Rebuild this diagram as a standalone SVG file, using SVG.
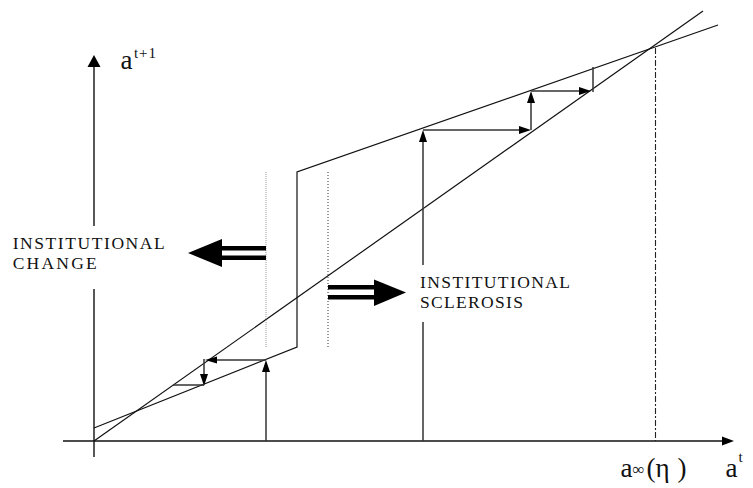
<svg xmlns="http://www.w3.org/2000/svg" width="753" height="488" viewBox="0 0 753 488">
<style>
.ln{stroke:#111;stroke-width:1.2;fill:none}
.ax{stroke:#111;stroke-width:1.4;fill:none}
.cw{stroke:#333;stroke-width:1.5;fill:none}
.hd{fill:#000;stroke:none}
text{font-family:"Liberation Serif","DejaVu Serif",serif;fill:#111}
.cap{font-size:17.5px}
</style>
<rect width="753" height="488" fill="#fff"/>
<g id="axes">
<line class="ax" x1="63" y1="441" x2="724" y2="441"/>
<polygon class="hd" points="734,441 722,436.5 722,445.5"/>
<line class="ax" x1="94" y1="457" x2="94" y2="289"/>
<line class="ax" x1="94" y1="226" x2="94" y2="65"/>
<polygon class="hd" points="94,55 87.5,67 100.5,67"/>
</g>
<g id="curves">
<line class="ln" x1="94" y1="441" x2="703" y2="11"/>
<polyline class="ln" points="94,428 297,347 297,172 718,25"/>
<line x1="266" y1="172" x2="266" y2="347" stroke="#999" stroke-width="1" stroke-dasharray="1,1"/>
<line x1="328" y1="172" x2="328" y2="347" stroke="#333" stroke-width="1" stroke-dasharray="1,2"/>
<line x1="655.5" y1="48" x2="655.5" y2="441" stroke="#222" stroke-width="1.1" stroke-dasharray="6,2,2,2"/>
</g>
<g id="connectors">
<line class="cw" x1="266" y1="441" x2="266" y2="370"/>
<polygon class="hd" points="266,360 262,372 270,372"/>
<line class="cw" x1="266" y1="360" x2="214" y2="360"/>
<polygon class="hd" points="205,360 217,356.5 217,363.5"/>
<line class="cw" x1="204" y1="359" x2="204" y2="376"/>
<polygon class="hd" points="204,386 200,374 208,374"/>
<line class="cw" x1="204" y1="385" x2="173" y2="385"/>
<line class="cw" x1="423" y1="441" x2="423" y2="322"/>
<line class="cw" x1="423" y1="265" x2="423" y2="141"/>
<polygon class="hd" points="423,130 419,142 427,142"/>
<line class="cw" x1="423" y1="130" x2="521" y2="130"/>
<polygon class="hd" points="531,130 519,126 519,134"/>
<line class="cw" x1="531" y1="130" x2="531" y2="101"/>
<polygon class="hd" points="531,91 527,103 535,103"/>
<line class="cw" x1="531" y1="91" x2="581" y2="91"/>
<polygon class="hd" points="591,91 579,87 579,95"/>
<line class="cw" x1="593" y1="92" x2="593" y2="67"/>
</g>
<g id="change-arrow">
<rect x="221" y="246" width="45" height="4.5" fill="#000"/>
<rect x="221" y="255.5" width="45" height="4.5" fill="#000"/>
<polygon class="hd" points="188,253 222,239 222,267"/>
</g>
<g id="sclerosis-arrow">
<rect x="328" y="285" width="47" height="4.5" fill="#000"/>
<rect x="328" y="295" width="47" height="4.5" fill="#000"/>
<polygon class="hd" points="406,292.5 374,279.5 374,306"/>
</g>
<g id="label-change">
<text class="cap" x="12.7" y="249" textLength="152" lengthAdjust="spacing">INSTITUTIONAL</text>
<text class="cap" x="12.7" y="268.5" textLength="84" lengthAdjust="spacing">CHANGE</text>
</g>
<g id="label-sclerosis">
<text class="cap" x="420" y="288" textLength="150" lengthAdjust="spacing">INSTITUTIONAL</text>
<text class="cap" x="420" y="308" textLength="103" lengthAdjust="spacing">SCLEROSIS</text>
</g>
<g id="label-y">
<text x="120.5" y="69" font-size="27">a</text>
<text x="134" y="58" font-size="15" textLength="22" lengthAdjust="spacing">t+1</text>
</g>
<g id="label-x">
<text x="725.5" y="477" font-size="27">a</text>
<text x="738.5" y="462" font-size="15">t</text>
</g>
<g id="label-ainf">
<text x="620.5" y="477" font-size="27">a</text>
<text x="632.5" y="475" font-size="17">∞</text>
<text x="646.5" y="477" font-size="27">(</text>
<text x="655.5" y="477" font-size="27">η</text>
<text x="677.5" y="477" font-size="27">)</text>
</g>
</svg>
